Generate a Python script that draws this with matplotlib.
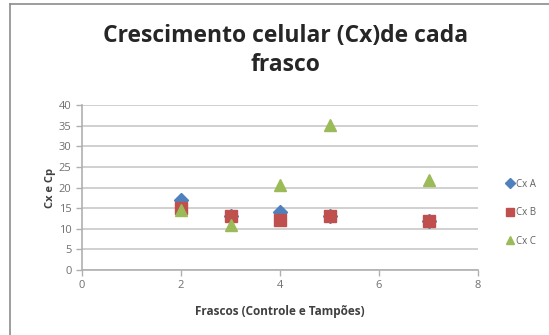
import matplotlib
matplotlib.use("Agg")
import matplotlib.pyplot as plt
from matplotlib.lines import Line2D

# Culture growth per flask
frascos = [2, 3, 4, 5, 7]
cx_a = [17.0, 13.0, 14.0, 13.0, 12.0]
cx_b = [15.0, 13.0, 12.2, 13.2, 11.8]
cx_c = [14.6, 11.0, 20.7, 35.2, 21.8]

series_names = ["Cx A", "Cx B", "Cx C"]
colors = ["#4F81BD", "#C0504D", "#9BBB59"]
markers = ["D", "s", "^"]

plt.rcParams['font.family'] = ['Open Sans', 'DejaVu Sans']

fig = plt.figure(figsize=(5.49, 3.35), dpi=100)
ax = fig.add_axes([82/549, 1 - 270/335, (478 - 82)/549, (270 - 105)/335])

for vals, c, m, s in zip([cx_a, cx_b, cx_c], colors, markers, [7, 8, 9]):
    ax.plot(frascos, vals, linestyle="none", marker=m, color=c, markersize=s,
            markeredgecolor=c, zorder=3)

ax.set_xlim(0, 8)
ax.set_ylim(0, 40)
ax.set_xticks([0, 2, 4, 6, 8])
ax.set_yticks(range(0, 41, 5))
ax.grid(axis="y", color="#C8C8C8", linewidth=1.2)
ax.set_axisbelow(True)
for side in ["top", "right"]:
    ax.spines[side].set_visible(False)
for side in ["left", "bottom"]:
    ax.spines[side].set_color("#B0B0B0")
    ax.spines[side].set_linewidth(1.2)
ax.tick_params(colors="#B0B0B0", labelcolor="#707070", labelsize=8,
               length=4, width=1)

ax.set_xlabel("Frascos (Controle e Tampões)", fontsize=8.5, fontweight="bold",
              color="#404040", labelpad=10)
ax.set_ylabel("Cx e Cp", fontsize=8, fontweight="bold", color="#404040",
              labelpad=2)

fig.text(0.52, 0.85, "Crescimento celular (Cx)de cada\nfrasco",
         ha="center", va="center", fontsize=16.5, fontweight="bold",
         color="#262626", linespacing=1.3)

handles = [Line2D([], [], linestyle="none", marker=m, color=c, markersize=5.5)
           for m, c in zip(markers, colors)]
fig.legend(handles, series_names, loc="center left",
           bbox_to_anchor=(0.905, 0.365), frameon=False, fontsize=7,
           labelcolor="#606060", handletextpad=0.1, handlelength=1.0,
           labelspacing=1.8)

# chart frame
fig.add_artist(Line2D([10/549, 1], [1 - 4/335, 1 - 4/335],
                      transform=fig.transFigure, color="#8C8C8C", lw=1.2))
fig.add_artist(Line2D([10/549, 10/549], [0, 1 - 4/335],
                      transform=fig.transFigure, color="#8C8C8C", lw=1.2))

fig.savefig("out.png", dpi=100)
